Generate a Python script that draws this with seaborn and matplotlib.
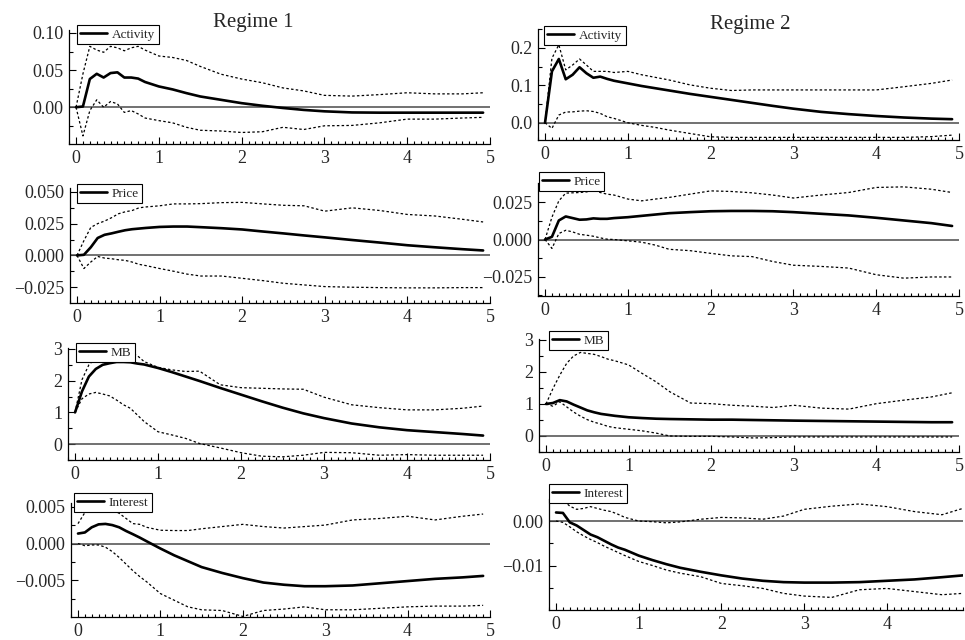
import matplotlib
matplotlib.use("Agg")
import matplotlib.pyplot as plt
from matplotlib.ticker import MultipleLocator, FuncFormatter
import seaborn as sns
import pandas as pd

# ---------------- data ----------------
months = [0, 1, 2, 3, 4, 5, 6, 7, 8, 9, 10, 12, 14, 16, 18, 21, 24, 27, 30, 33, 36, 40, 44, 48, 52, 56, 59]
x_ticks = [0, 1, 2, 3, 4, 5]

# Regime 1
r1_activity = [0, 0.001, 0.038, 0.045, 0.040, 0.046, 0.047, 0.040, 0.040, 0.0386, 0.034, 0.028, 0.024, 0.019, 0.0145,
               0.010, 0.0055, 0.002, -0.001, -0.0036, -0.0055, -0.007, -0.0073, -0.0073, -0.0073, -0.0073, -0.0073]
r1_activity_hi = [0, 0.045, 0.082, 0.077, 0.074, 0.082, 0.080, 0.076, 0.080, 0.082, 0.077, 0.069, 0.067, 0.063, 0.055,
                  0.0445, 0.038, 0.033, 0.026, 0.022, 0.016, 0.015, 0.017, 0.0195, 0.018, 0.018, 0.0195]
r1_activity_lo = [0, -0.0386, -0.0045, 0.010, 0.0, 0.0077, 0.0045, -0.007, -0.0045, -0.009, -0.0145, -0.018, -0.021,
                  -0.027, -0.031, -0.032, -0.034, -0.033, -0.027, -0.030, -0.025, -0.0245, -0.021, -0.016, -0.016,
                  -0.0145, -0.0136]

r1_price = [0, 0.0005, 0.0064, 0.0137, 0.0162, 0.0173, 0.0186, 0.0198, 0.0206, 0.0211, 0.0216, 0.0224, 0.0227, 0.0227,
            0.0222, 0.0214, 0.0204, 0.0188, 0.0173, 0.0157, 0.0142, 0.0121, 0.0101, 0.008, 0.0064, 0.0049, 0.0039]
r1_price_hi = [0, 0.0116, 0.022, 0.025, 0.027, 0.0296, 0.0327, 0.0343, 0.0353, 0.0374, 0.0381, 0.039, 0.0405, 0.0405,
               0.0407, 0.0415, 0.0417, 0.0405, 0.0394, 0.039, 0.0348, 0.0374, 0.0353, 0.0322, 0.031, 0.0284, 0.0263]
r1_price_lo = [0, -0.0103, -0.0052, -0.0008, -0.0021, -0.0026, -0.0034, -0.0039, -0.0052, -0.007, -0.008, -0.0103,
               -0.0124, -0.0147, -0.0162, -0.0162, -0.018, -0.0198, -0.0219, -0.0232, -0.0245, -0.025, -0.0253,
               -0.0255, -0.0255, -0.0253, -0.0253]

r1_mb = [1.0, 1.66, 2.13, 2.37, 2.50, 2.55, 2.59, 2.59, 2.58, 2.54, 2.51, 2.40, 2.27, 2.13, 1.99, 1.77, 1.56, 1.35,
         1.15, 0.97, 0.82, 0.65, 0.53, 0.44, 0.38, 0.32, 0.27]
r1_mb_hi = [1.0, 2.03, 2.50, 2.71, 2.87, 2.92, 2.95, 2.92, 2.87, 2.79, 2.60, 2.42, 2.34, 2.29, 2.30, 1.87, 1.78, 1.76,
            1.74, 1.73, 1.48, 1.24, 1.15, 1.08, 1.08, 1.13, 1.20]
r1_mb_lo = [1.0, 1.43, 1.58, 1.63, 1.58, 1.52, 1.39, 1.24, 1.13, 0.92, 0.71, 0.39, 0.29, 0.18, 0.02, -0.12, -0.27,
            -0.38, -0.40, -0.35, -0.26, -0.27, -0.35, -0.33, -0.35, -0.35, -0.35]

r1_interest = [0.00135, 0.0015, 0.0022, 0.0026, 0.00266, 0.0025, 0.0022, 0.0017, 0.00126, 0.0008, 0.0003, -0.00068,
               -0.0016, -0.0024, -0.0032, -0.004, -0.0047, -0.0053, -0.0056, -0.0058, -0.0058, -0.0057, -0.0054,
               -0.0051, -0.0048, -0.0046, -0.0044]
r1_interest_hi = [0.0027, 0.0042, 0.0045, 0.0047, 0.0049, 0.0046, 0.0041, 0.0034, 0.0027, 0.0026, 0.0022, 0.0018,
                  0.00176, 0.00176, 0.002, 0.0023, 0.0026, 0.0023, 0.0021, 0.0023, 0.0025, 0.0032, 0.0034, 0.0037,
                  0.0032, 0.0037, 0.004]
r1_interest_lo = [0.0, -0.0003, -0.0002, -0.0002, -0.0005, -0.0011, -0.0019, -0.0028, -0.0037, -0.0045, -0.0052,
                  -0.0068, -0.0077, -0.0086, -0.009, -0.0091, -0.0099, -0.0091, -0.0089, -0.0086, -0.009, -0.009,
                  -0.0088, -0.0086, -0.0085, -0.0085, -0.0084]

# Regime 2
r2_activity = [0, 0.137, 0.170, 0.116, 0.128, 0.148, 0.132, 0.120, 0.123, 0.117, 0.112, 0.105, 0.098, 0.092, 0.086,
               0.077, 0.069, 0.061, 0.053, 0.045, 0.0375, 0.029, 0.023, 0.018, 0.014, 0.011, 0.0095]
r2_activity_hi = [0, 0.172, 0.208, 0.141, 0.154, 0.170, 0.154, 0.137, 0.137, 0.137, 0.134, 0.137, 0.128, 0.121, 0.114,
                  0.101, 0.092, 0.086, 0.0875, 0.0875, 0.0875, 0.0875, 0.0875, 0.0875, 0.096, 0.105, 0.114]
r2_activity_lo = [0, -0.015, 0.0205, 0.0286, 0.029, 0.031, 0.032, 0.030, 0.025, 0.016, 0.0116, 0.0, -0.007, -0.0125,
                  -0.0196, -0.0286, -0.0375, -0.039, -0.039, -0.039, -0.039, -0.039, -0.039, -0.039, -0.039, -0.037,
                  -0.033]

r2_price = [0, 0.0018, 0.0128, 0.0155, 0.0144, 0.0133, 0.0135, 0.0142, 0.0139, 0.0139, 0.0144, 0.015, 0.0159, 0.0168,
            0.0177, 0.0184, 0.019, 0.0192, 0.0192, 0.019, 0.0184, 0.0173, 0.0162, 0.0146, 0.0128, 0.011, 0.0091]
r2_price_hi = [0, 0.015, 0.026, 0.0312, 0.0314, 0.0316, 0.032, 0.0332, 0.0316, 0.0305, 0.0299, 0.0272, 0.026, 0.0272,
               0.0283, 0.0305, 0.0327, 0.0323, 0.0314, 0.0299, 0.0279, 0.0299, 0.0316, 0.035, 0.0354, 0.0338, 0.0316]
r2_price_lo = [0, -0.006, 0.004, 0.0062, 0.0051, 0.0035, 0.0029, 0.0022, 0.0011, 0.0002, 0.0, -0.0009, -0.0018,
               -0.0038, -0.0066, -0.0075, -0.0093, -0.011, -0.0115, -0.0148, -0.0173, -0.0181, -0.0192, -0.0237,
               -0.026, -0.0252, -0.0252]

r2_mb = [1.0, 1.03, 1.12, 1.08, 0.98, 0.89, 0.80, 0.74, 0.69, 0.66, 0.63, 0.585, 0.56, 0.54, 0.53, 0.52, 0.51, 0.51,
         0.50, 0.49, 0.48, 0.47, 0.46, 0.45, 0.44, 0.43, 0.43]
r2_mb_hi = [1.0, 1.48, 1.90, 2.27, 2.50, 2.61, 2.58, 2.55, 2.48, 2.40, 2.35, 2.22, 1.95, 1.69, 1.38, 1.03, 1.01, 0.96,
            0.93, 0.89, 0.96, 0.87, 0.84, 1.01, 1.12, 1.22, 1.35]
r2_mb_lo = [1.0, 0.93, 1.07, 0.91, 0.75, 0.62, 0.51, 0.43, 0.37, 0.30, 0.26, 0.21, 0.16, 0.09, 0.0, -0.01, -0.01,
            -0.03, -0.06, -0.05, -0.03, -0.03, -0.03, -0.03, -0.03, -0.03, -0.03]

r2_interest = [0.0019, 0.0018, -0.0003, -0.001, -0.002, -0.003, -0.0036, -0.0044, -0.0052, -0.0059, -0.0064, -0.0077,
               -0.0087, -0.0096, -0.0104, -0.0113, -0.0121, -0.0128, -0.0133, -0.0136, -0.0137, -0.0137, -0.0136,
               -0.0133, -0.013, -0.0125, -0.0121]
r2_interest_hi = [0.0039, 0.0047, 0.0033, 0.0026, 0.0028, 0.0032, 0.0028, 0.0024, 0.0021, 0.0015, 0.0008, 0.0,
                  -0.00015, -0.0004, -0.0002, 0.0004, 0.0008, 0.0007, 0.0004, 0.0011, 0.0026, 0.0033, 0.0038, 0.0032,
                  0.0021, 0.0014, 0.0028]
r2_interest_lo = [0, -0.0003, -0.0013, -0.0024, -0.0033, -0.0041, -0.0048, -0.0056, -0.0063, -0.007, -0.0077, -0.009,
                  -0.0099, -0.0109, -0.0116, -0.0124, -0.0139, -0.0144, -0.015, -0.0161, -0.0167, -0.017, -0.0153,
                  -0.015, -0.0157, -0.0164, -0.0161]

titles = ["Regime 1", "Regime 2"]

# ---------------- styling ----------------
sns.set_theme(style="ticks")
plt.rcParams["font.family"] = ["Liberation Serif", "DejaVu Serif"]
plt.rcParams["axes.unicode_minus"] = True

W, H = 965, 640
fig = plt.figure(figsize=(W / 100, H / 100), dpi=100)


def box(l, t, r, b):
    return [l / W, 1 - b / H, (r - l) / W, (b - t) / H]


def make_fmt(dec):
    def f(v, pos):
        if abs(v) < 1e-12:
            v = 0.0
        s = f"{v:.{dec}f}"
        return s.replace("-", "\u2212")
    return FuncFormatter(f)


panels = [
    ("Activity", r1_activity, r1_activity_hi, r1_activity_lo, (69, 30, 490, 144), (-0.0495, 0.104), 0.05, 0.025, 2, (-0.085, 5.0), (77, 25)),
    ("Activity", r2_activity, r2_activity_hi, r2_activity_lo, (538, 29, 959, 140), (-0.046, 0.25), 0.1, 0.05, 1, (-0.085, 5.0), (544, 26)),
    ("Price", r1_price, r1_price_hi, r1_price_lo, (70, 188, 490, 303), (-0.0374, 0.053), 0.025, 0.0125, 3, (-0.085, 5.0), (77, 184)),
    ("Price", r2_price, r2_price_hi, r2_price_lo, (538, 183, 959, 296), (-0.038, 0.038), 0.025, 0.0125, 3, (-0.085, 5.0), (539, 172)),
    ("MB", r1_mb, r1_mb_hi, r1_mb_lo, (68, 348, 490, 460), (-0.5, 3.03), 1, 0.5, 0, (-0.085, 5.0), (76, 343)),
    ("MB", r2_mb, r2_mb_hi, r2_mb_lo, (539, 339, 959, 452), (-0.5, 3.03), 1, 0.5, 0, (-0.085, 5.0), (549, 331)),
    ("Interest", r1_interest, r1_interest_hi, r1_interest_lo, (71, 503, 490, 617), (-0.00998, 0.0055), 0.005, 0.0025, 3, (-0.085, 5.0), (74, 493)),
    ("Interest", r2_interest, r2_interest_hi, r2_interest_lo, (549, 499, 963, 610), (-0.0198, 0.0049), 0.01, 0.005, 2, (-0.085, 4.92), (549, 484)),
]

horizon = [m / 12 for m in months]
dot_style = (0, (2.0, 1.8))

for name, mid, hi, lo, pos, ylim, major, minor, dec, xlim, leg in panels:
    ax = fig.add_axes(box(*pos))
    df = pd.DataFrame({"horizon": horizon, "mid": mid, "hi": hi, "lo": lo})
    ax.axhline(0, color="#4a4a4a", lw=1.1, zorder=1)
    sns.lineplot(data=df, x="horizon", y="hi", ax=ax, color="black", lw=0.9,
                 linestyle=dot_style, legend=False, zorder=2)
    sns.lineplot(data=df, x="horizon", y="lo", ax=ax, color="black", lw=0.9,
                 linestyle=dot_style, legend=False, zorder=2)
    sns.lineplot(data=df, x="horizon", y="mid", ax=ax, color="black", lw=1.9,
                 legend=False, zorder=3)
    solid = ax.get_lines()[-1]

    ax.set_xlim(*xlim)
    ax.set_ylim(*ylim)
    ax.set_xlabel("")
    ax.set_ylabel("")
    ax.xaxis.set_major_locator(MultipleLocator(1))
    ax.xaxis.set_minor_locator(MultipleLocator(1 / 12))
    ax.xaxis.set_major_formatter(FuncFormatter(lambda v, p: f"{int(round(v))}"))
    ax.yaxis.set_major_locator(MultipleLocator(major))
    ax.yaxis.set_minor_locator(MultipleLocator(minor))
    ax.yaxis.set_major_formatter(make_fmt(dec))

    for s in ["top", "right"]:
        ax.spines[s].set_visible(False)
    for s in ["left", "bottom"]:
        ax.spines[s].set_linewidth(0.9)
        ax.spines[s].set_color("black")

    ax.tick_params(axis="both", which="both", direction="in", color="black", width=0.8)
    ax.tick_params(axis="x", which="major", length=5, pad=4, labelsize=13)
    ax.tick_params(axis="x", which="minor", length=2.5)
    ax.tick_params(axis="y", which="major", length=5, pad=4, labelsize=13)
    ax.tick_params(axis="y", which="minor", length=3)

    lg = ax.legend([solid], [name], loc="upper left",
                   bbox_to_anchor=(leg[0] / W, 1 - leg[1] / H), bbox_transform=fig.transFigure,
                   borderaxespad=0, fontsize=9.5, handlelength=2.0, handletextpad=0.4,
                   borderpad=0.25, fancybox=False, framealpha=1, edgecolor="black")
    lg.get_frame().set_linewidth(0.8)
    lg.set_zorder(5)

fig.text(253 / W, 1 - 22 / H, titles[0], ha="center", va="center", fontsize=15)
fig.text(750 / W, 1 - 25 / H, titles[1], ha="center", va="center", fontsize=15)

fig.savefig("out.png", dpi=100)
